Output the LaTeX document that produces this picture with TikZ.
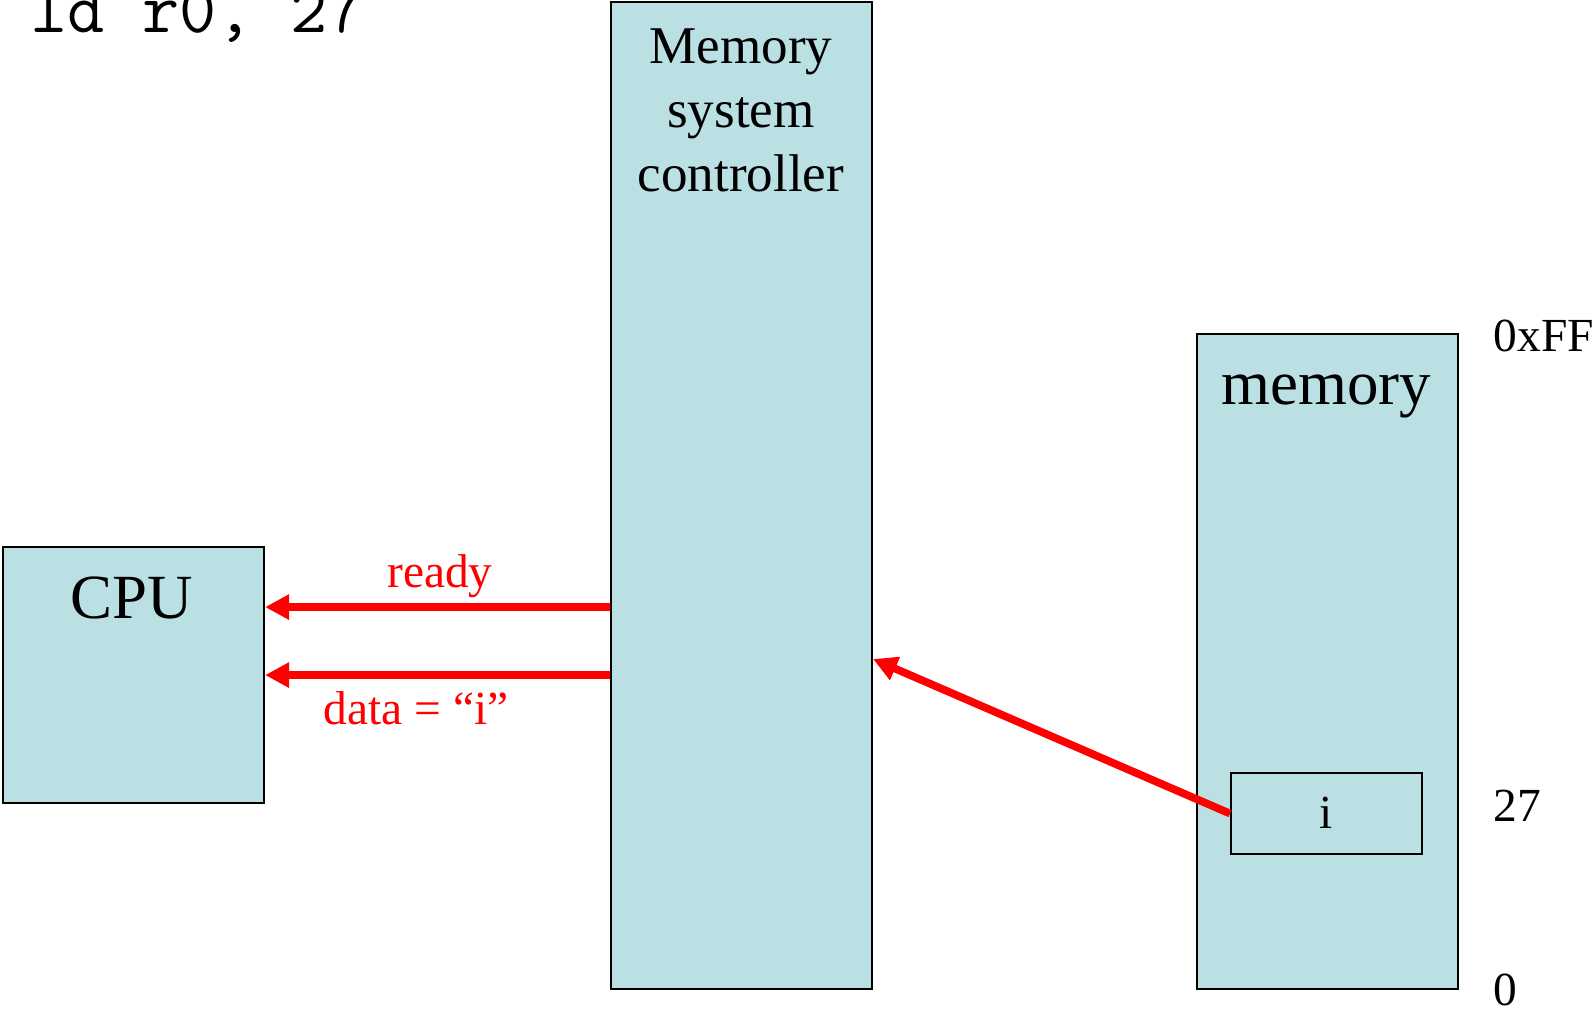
\documentclass[tikz,border=0pt]{standalone}
\usepackage{fontspec}
\setmainfont{Liberation Serif}
\usetikzlibrary{arrows.meta,positioning}
\definecolor{boxblue}{RGB}{186,224,227}

\begin{document}
\begin{tikzpicture}[
    unit/.style={draw=black, line width=0.6pt, fill=boxblue, anchor=north west, inner sep=0pt},
    sig/.style={red, line width=2.2pt, -{Triangle[length=6.8pt,width=6.8pt]}},
    big/.style={font=\fontsize{17.9}{21.5}\selectfont, inner sep=0pt},
    mid/.style={font=\fontsize{15.1}{18.2}\selectfont, inner sep=0pt, align=center},
    small/.style={font=\fontsize{13.5}{16}\selectfont, inner sep=0pt}
  ]
  \useasboundingbox (0,0) rectangle (15.94,-10.09);

  % the instruction
  \node[font=\ttfamily\fontsize{20.5}{24}\selectfont, inner sep=0pt, anchor=base west] (code) at (0.30,-0.32) {ld r0, 27};

  % boxes
  \node[unit, minimum width=2.61cm, minimum height=2.56cm] (cpu) at (0.02,-5.46) {};
  \node[unit, minimum width=2.61cm, minimum height=9.87cm] (ctrl) at (6.10,-0.01) {};
  \node[unit, minimum width=2.61cm, minimum height=6.55cm] (mem) at (11.96,-3.33) {};
  \node[unit, minimum width=1.91cm, minimum height=0.81cm] (cell) at (12.30,-7.72) {};

  \node[big, anchor=base] (cpulabel) at (1.32,-6.18) {CPU};
  \node[mid, anchor=north] (ctrllabel) at (7.41,-0.28) {Memory\\system\\controller};
  \node[big, anchor=base] (memlabel) at (13.26,-4.04) {memory};
  \node[small, anchor=base] (celllabel) at (13.26,-8.28) {i};

  % addresses
  \node[small, anchor=base west] (addrtop) at (14.93,-3.51) {0xFF};
  \node[small, anchor=base west] (addrcell) at (14.93,-8.21) {27};
  \node[small, anchor=base west] (addrzero) at (14.93,-10.05) {0};

  % signals
  \draw[sig] ([yshift=-1.115cm]ctrl.west) -- ([yshift=0.68cm]cpu.east);
  \draw[sig] ([yshift=-1.795cm]ctrl.west) -- (cpu.east);
  \draw[sig] (cell.west) -- ([yshift=-1.635cm]ctrl.east);

  \node[small, text=red, anchor=base] (readylabel) at (4.40,-5.87) {ready};
  \node[small, text=red, anchor=base] (datalabel) at (4.16,-7.24) {data = “i”};

\end{tikzpicture}
\end{document}
